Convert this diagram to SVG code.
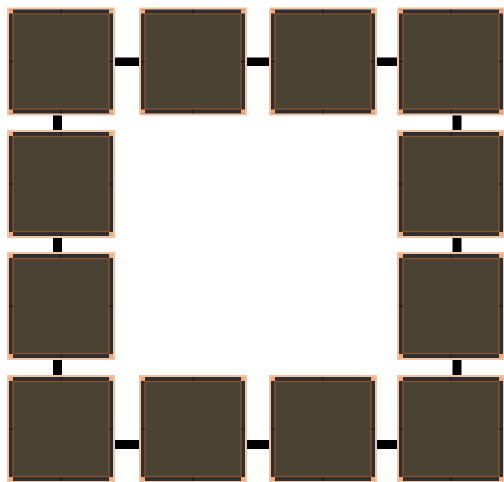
<svg xmlns="http://www.w3.org/2000/svg" xmlns:xlink="http://www.w3.org/1999/xlink" width="504" height="482" viewBox="0 0 504 482">
<style>
.outer{fill:#efc3a3}
.frame{fill:#2f2e30}
.body{fill:#4a4333;stroke:#8a5330;stroke-width:1.3}
.corner{fill:#f2a878}
.tick{stroke:#151515;stroke-width:1}
.conn{fill:#000000}
</style>
<defs>
<g id="node">
<rect class="outer" x="0" y="0" width="108" height="108"/>
<rect class="frame" x="2" y="2" width="104" height="104"/>
<rect class="body" x="6" y="6.5" width="96" height="95"/>
<rect class="corner" x="2" y="2" width="4" height="4"/>
<rect class="corner" x="102" y="2" width="4" height="4"/>
<rect class="corner" x="2" y="102" width="4" height="4"/>
<rect class="corner" x="102" y="102" width="4" height="4"/>
<line class="tick" x1="54" y1="2" x2="54" y2="6"/>
<line class="tick" x1="54" y1="102" x2="54" y2="106"/>
<line class="tick" x1="102" y1="54" x2="106" y2="54"/>
<line class="tick" x1="2" y1="54" x2="6" y2="54"/>
</g>
</defs>
<g id="connectors">
<rect class="conn" x="114" y="57.5" width="26" height="8.5"/>
<rect class="conn" x="246" y="57.5" width="24" height="8.5"/>
<rect class="conn" x="376" y="57.5" width="22" height="8.5"/>
<rect class="conn" x="114" y="440" width="26" height="9"/>
<rect class="conn" x="246" y="440" width="24" height="9"/>
<rect class="conn" x="376" y="440" width="22" height="9"/>
<rect class="conn" x="53" y="115" width="9" height="16"/>
<rect class="conn" x="53" y="237" width="9" height="16"/>
<rect class="conn" x="53" y="359" width="9" height="17"/>
<rect class="conn" x="452.5" y="115" width="9" height="16"/>
<rect class="conn" x="452.5" y="237" width="9" height="16"/>
<rect class="conn" x="452.5" y="359" width="9" height="17"/>
</g>
<g id="n1"><use xlink:href="#node" x="7" y="7.5"/></g>
<g id="n2"><use xlink:href="#node" x="139" y="7.5"/></g>
<g id="n3"><use xlink:href="#node" x="269" y="7.5"/></g>
<g id="n4"><use xlink:href="#node" x="397" y="7.5"/></g>
<g id="n5"><use xlink:href="#node" x="7" y="130"/></g>
<g id="n6"><use xlink:href="#node" x="397" y="130"/></g>
<g id="n7"><use xlink:href="#node" x="7" y="252"/></g>
<g id="n8"><use xlink:href="#node" x="397" y="252"/></g>
<g id="n9"><use xlink:href="#node" x="7" y="375"/></g>
<g id="n10"><use xlink:href="#node" x="139" y="375"/></g>
<g id="n11"><use xlink:href="#node" x="269" y="375"/></g>
<g id="n12"><use xlink:href="#node" x="397" y="375"/></g>
</svg>
